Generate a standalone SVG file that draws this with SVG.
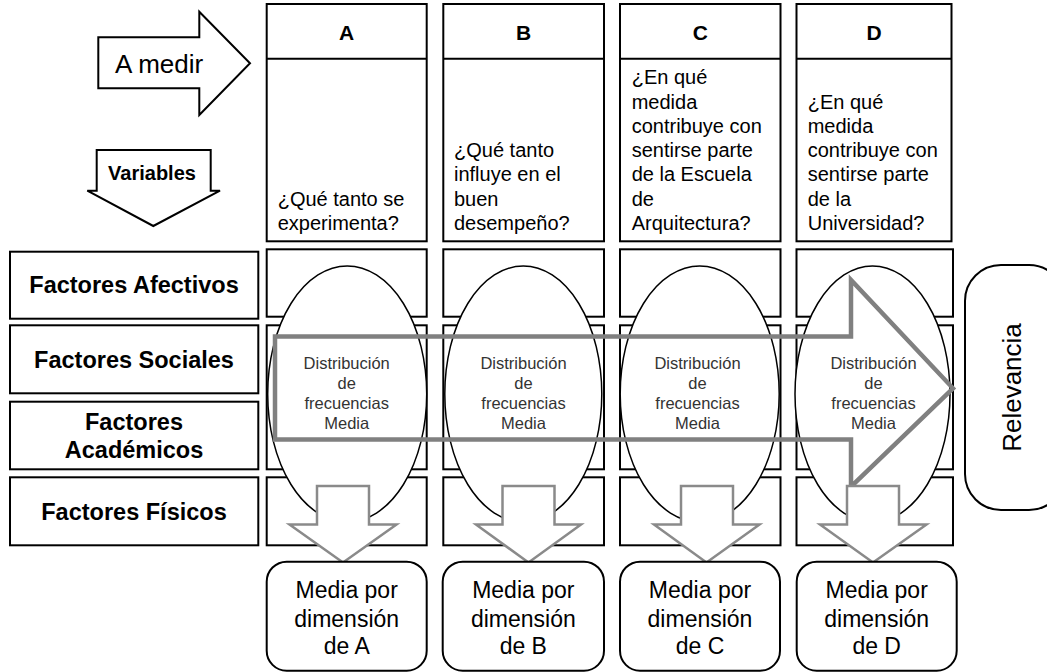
<svg xmlns="http://www.w3.org/2000/svg" width="1047" height="672" viewBox="0 0 1047 672">
<style>
  .box{fill:#fff;stroke:#000;stroke-width:2}
  .rbox{fill:#fff;stroke:#000;stroke-width:2}
  .ell{fill:#fff;stroke:#000;stroke-width:1.5}
  .lbl{font-family:"Liberation Sans",Arial,sans-serif;font-weight:bold;font-size:23.5px;fill:#000;text-anchor:middle}
  .hdr{font-family:"Liberation Sans",Arial,sans-serif;font-weight:bold;font-size:21px;fill:#000;text-anchor:middle}
  .q{font-family:"Liberation Sans",Arial,sans-serif;font-size:20px;fill:#000}
  .dist{font-family:"Liberation Sans",Arial,sans-serif;font-size:16.5px;fill:#333;text-anchor:middle}
  .mb{font-family:"Liberation Sans",Arial,sans-serif;font-size:23px;fill:#000;text-anchor:middle}
  .big{fill:none;stroke:#808080;stroke-width:4.5;stroke-linejoin:miter}
  .down{fill:#fff;stroke:#8a8a8a;stroke-width:2.5;stroke-linejoin:miter}
</style>

<g id="a-medir">
  <polygon class="box" points="98.3,37.3 199.3,37.3 199.3,11.7 250,63.3 199.3,115 199.3,88.3 98.3,88.3"/>
  <text x="115" y="73.3" style="font-family:'Liberation Sans',Arial,sans-serif;font-size:26px">A medir</text>
</g>
<g id="variables">
  <polygon class="box" points="96.7,150 210.7,150 210.7,190.7 220,190.7 153.3,226 87.3,190.7 96.7,190.7"/>
  <text x="152" y="180" style="font-family:'Liberation Sans',Arial,sans-serif;font-size:20px;font-weight:bold;text-anchor:middle">Variables</text>
</g>

<g id="col-A-header">
  <rect class="box" x="266.7" y="4" width="160" height="237.3"/>
  <line x1="266.7" y1="58.7" x2="426.7" y2="58.7" stroke="#000" stroke-width="2"/>
  <text class="hdr" x="346.7" y="40">A</text>
  <text class="q" x="277.7" y="205.7">¿Qué tanto se</text>
  <text class="q" x="277.7" y="230">experimenta?</text>
</g>
<g id="col-B-header">
  <rect class="box" x="443.3" y="4" width="160.7" height="237.3"/>
  <line x1="443.3" y1="58.7" x2="604" y2="58.7" stroke="#000" stroke-width="2"/>
  <text class="hdr" x="523.7" y="40">B</text>
  <text class="q" x="454" y="157.1">¿Qué tanto</text>
  <text class="q" x="454" y="181.4">influye en el</text>
  <text class="q" x="454" y="205.7">buen</text>
  <text class="q" x="454" y="230">desempeño?</text>
</g>
<g id="col-C-header">
  <rect class="box" x="620" y="4" width="160.5" height="237.3"/>
  <line x1="620" y1="58.7" x2="780.5" y2="58.7" stroke="#000" stroke-width="2"/>
  <text class="hdr" x="700.3" y="40">C</text>
  <text class="q" x="631.7" y="84.2">¿En qué</text>
  <text class="q" x="631.7" y="108.5">medida</text>
  <text class="q" x="631.7" y="132.8">contribuye con</text>
  <text class="q" x="631.7" y="157.1">sentirse parte</text>
  <text class="q" x="631.7" y="181.4">de la Escuela</text>
  <text class="q" x="631.7" y="205.7">de</text>
  <text class="q" x="631.7" y="230">Arquitectura?</text>
</g>
<g id="col-D-header">
  <rect class="box" x="796.5" y="4" width="155" height="237.3"/>
  <line x1="796.5" y1="58.7" x2="951.5" y2="58.7" stroke="#000" stroke-width="2"/>
  <text class="hdr" x="874" y="40">D</text>
  <text class="q" x="807.7" y="108.5">¿En qué</text>
  <text class="q" x="807.7" y="132.8">medida</text>
  <text class="q" x="807.7" y="157.1">contribuye con</text>
  <text class="q" x="807.7" y="181.4">sentirse parte</text>
  <text class="q" x="807.7" y="205.7">de la</text>
  <text class="q" x="807.7" y="230">Universidad?</text>
</g>

<g id="label-afectivos">
  <rect class="box" x="10" y="251.7" width="248.3" height="67"/>
  <text class="lbl" x="134" y="293.3">Factores Afectivos</text>
</g>
<g id="label-sociales">
  <rect class="box" x="10" y="325.3" width="248.3" height="68"/>
  <text class="lbl" x="134" y="367.7">Factores Sociales</text>
</g>
<g id="label-academicos">
  <rect class="box" x="10" y="401.7" width="248.3" height="67.6"/>
  <text class="lbl" x="134" y="430">Factores</text>
  <text class="lbl" x="134" y="457.7">Académicos</text>
</g>
<g id="label-fisicos">
  <rect class="box" x="10" y="477.3" width="248.3" height="68"/>
  <text class="lbl" x="134" y="520">Factores Físicos</text>
</g>

<g id="grid-cells">
  <rect class="box" x="266.7" y="249.3" width="160" height="67.4"/>
  <rect class="box" x="266.7" y="325.3" width="160" height="144"/>
  <rect class="box" x="266.7" y="477.3" width="160" height="68"/>
  <rect class="box" x="443.3" y="249.3" width="160.7" height="67.4"/>
  <rect class="box" x="443.3" y="325.3" width="160.7" height="144"/>
  <rect class="box" x="443.3" y="477.3" width="160.7" height="68"/>
  <rect class="box" x="620" y="249.3" width="160.5" height="67.4"/>
  <rect class="box" x="620" y="325.3" width="160.5" height="144"/>
  <rect class="box" x="620" y="477.3" width="160.5" height="68"/>
  <rect class="box" x="796.5" y="249.3" width="156.5" height="67.4"/>
  <rect class="box" x="796.5" y="325.3" width="156.5" height="144"/>
  <rect class="box" x="796.5" y="477.3" width="156.5" height="68"/>
</g>

<g id="ellipse-A">
  <ellipse class="ell" cx="347.2" cy="394" rx="79.5" ry="128"/>
  <text class="dist" x="346.7" y="369.3">Distribución</text>
  <text class="dist" x="346.7" y="389.3">de</text>
  <text class="dist" x="346.7" y="409.3">frecuencias</text>
  <text class="dist" x="346.7" y="429.3">Media</text>
</g>
<g id="ellipse-B">
  <ellipse class="ell" cx="523.3" cy="394" rx="78.5" ry="128"/>
  <text class="dist" x="523.5" y="369.3">Distribución</text>
  <text class="dist" x="523.5" y="389.3">de</text>
  <text class="dist" x="523.5" y="409.3">frecuencias</text>
  <text class="dist" x="523.5" y="429.3">Media</text>
</g>
<g id="ellipse-C">
  <ellipse class="ell" cx="699.7" cy="394" rx="79.5" ry="128"/>
  <text class="dist" x="697.5" y="369.3">Distribución</text>
  <text class="dist" x="697.5" y="389.3">de</text>
  <text class="dist" x="697.5" y="409.3">frecuencias</text>
  <text class="dist" x="697.5" y="429.3">Media</text>
</g>
<g id="ellipse-D">
  <ellipse class="ell" cx="872.5" cy="394" rx="77.5" ry="128"/>
  <text class="dist" x="873.5" y="369.3">Distribución</text>
  <text class="dist" x="873.5" y="389.3">de</text>
  <text class="dist" x="873.5" y="409.3">frecuencias</text>
  <text class="dist" x="873.5" y="429.3">Media</text>
</g>

<g id="connectors">
  <polygon class="big" points="275,336.5 851,336.5 851,280 953,388.3 851,486.7 851,439.5 275,439.5"/>
  <polygon class="down" points="317,486 369,486 369,524.5 396.5,524.5 343,562.5 289.5,524.5 317,524.5"/>
  <polygon class="down" points="502.5,486 554.5,486 554.5,524.5 581,524.5 528.5,562.5 476,524.5 502.5,524.5"/>
  <polygon class="down" points="681,486 733,486 733,524.5 759.5,524.5 706.5,562.5 654,524.5 681,524.5"/>
  <polygon class="down" points="847,486 899,486 899,524.5 926.5,524.5 873,562.5 820,524.5 847,524.5"/>
</g>

<g id="media-A">
  <rect class="rbox" x="266.7" y="561.7" width="160" height="109" rx="20"/>
  <text class="mb" x="346.7" y="598.3">Media por</text>
  <text class="mb" x="346.7" y="626.7">dimensión</text>
  <text class="mb" x="346.7" y="654">de A</text>
</g>
<g id="media-B">
  <rect class="rbox" x="442.7" y="561.7" width="161.3" height="109" rx="20"/>
  <text class="mb" x="523.3" y="598.3">Media por</text>
  <text class="mb" x="523.3" y="626.7">dimensión</text>
  <text class="mb" x="523.3" y="654">de B</text>
</g>
<g id="media-C">
  <rect class="rbox" x="620" y="561.7" width="160" height="109" rx="20"/>
  <text class="mb" x="700" y="598.3">Media por</text>
  <text class="mb" x="700" y="626.7">dimensión</text>
  <text class="mb" x="700" y="654">de C</text>
</g>
<g id="media-D">
  <rect class="rbox" x="796.7" y="561.7" width="160" height="109" rx="20"/>
  <text class="mb" x="876.7" y="598.3">Media por</text>
  <text class="mb" x="876.7" y="626.7">dimensión</text>
  <text class="mb" x="876.7" y="654">de D</text>
</g>

<g id="relevancia">
  <rect class="rbox" x="965" y="265" width="100" height="245" rx="36"/>
  <text transform="translate(1020.5,387.5) rotate(-90)" style="font-family:'Liberation Sans',Arial,sans-serif;font-size:26px;text-anchor:middle">Relevancia</text>
</g>
</svg>
